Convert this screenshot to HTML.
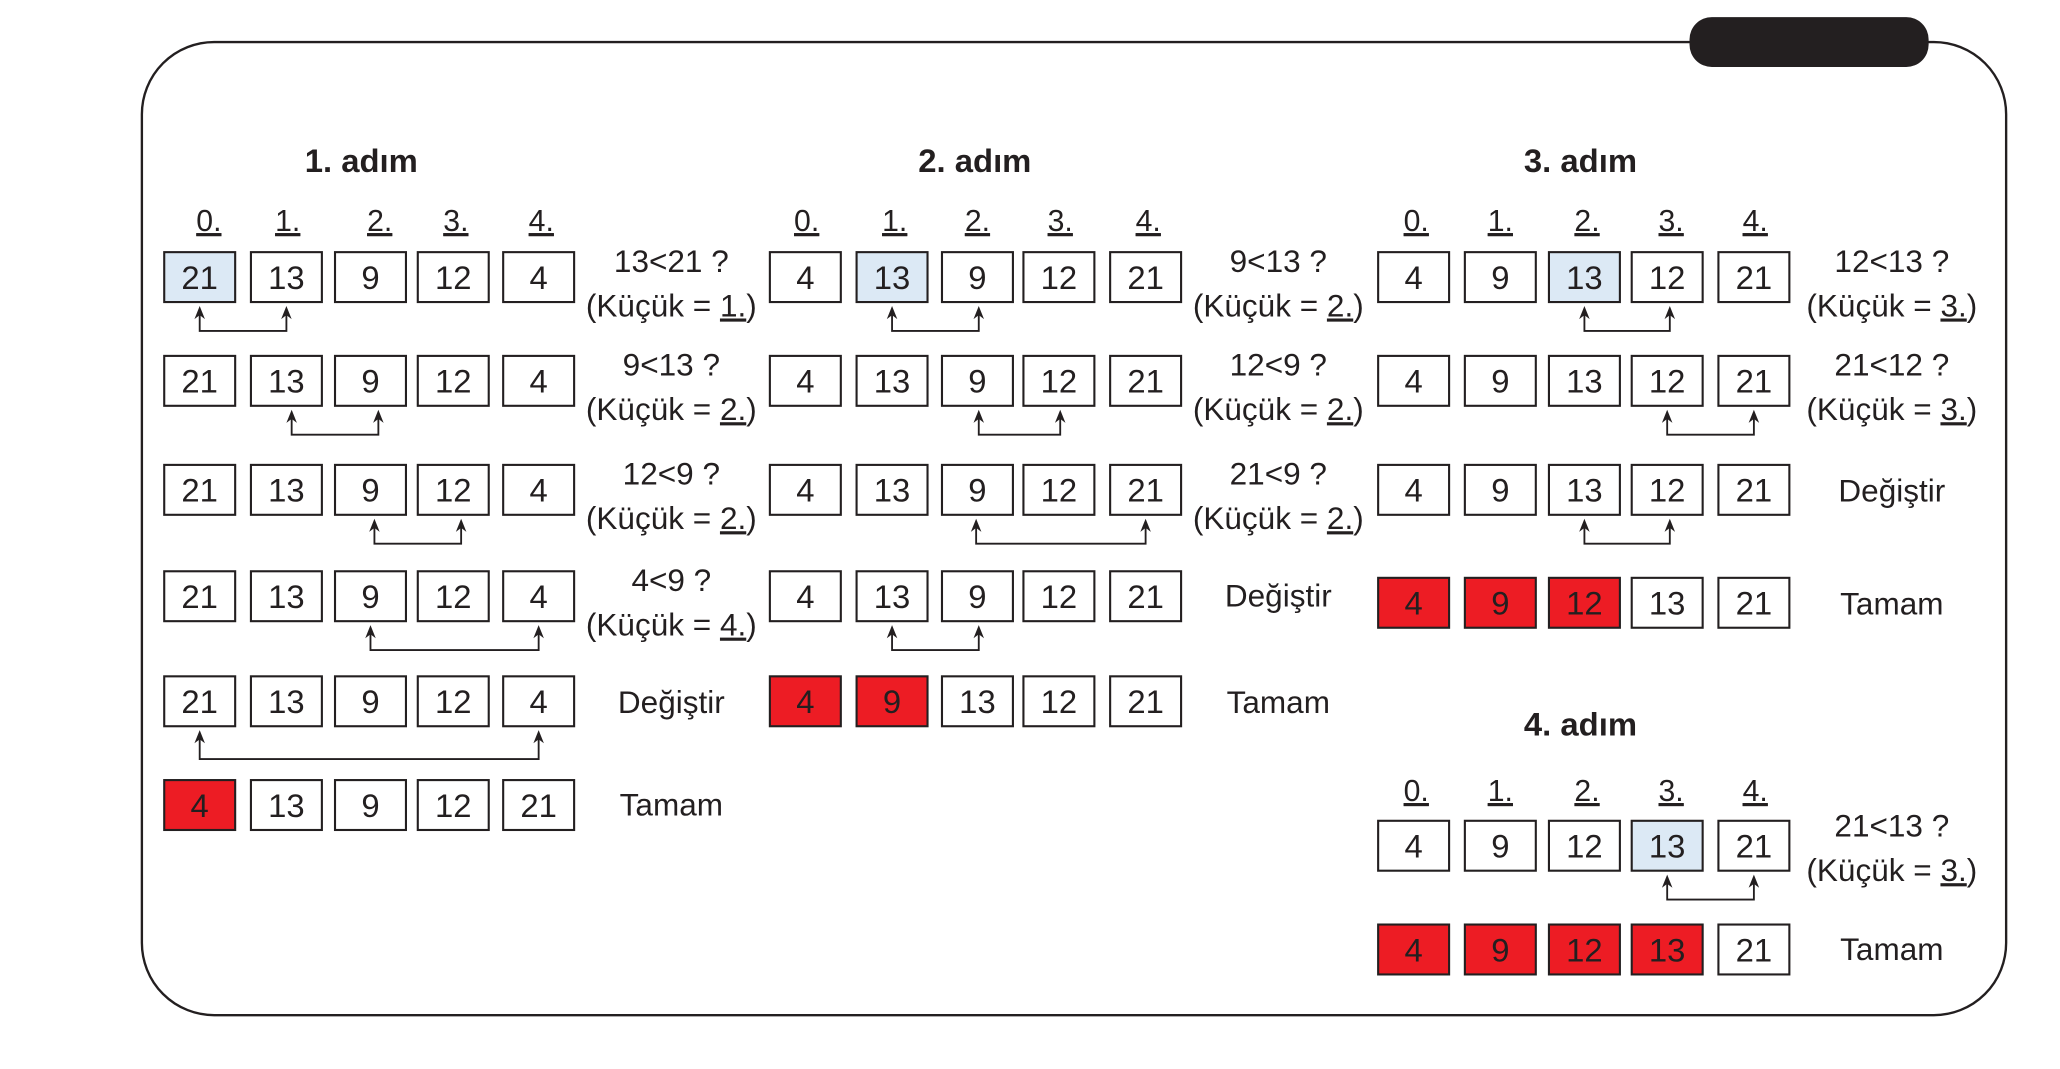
<!DOCTYPE html>
<html><head><meta charset="utf-8"><style>
html,body{margin:0;padding:0;background:#fff;}
svg{display:block}
text{font-family:"Liberation Sans",sans-serif;fill:#231f20}
.b{fill:#fff;stroke:#231f20;stroke-width:1.6}
.bl{fill:#dce9f5;stroke:#231f20;stroke-width:1.6}
.r{fill:#ed1c24;stroke:#231f20;stroke-width:1.6}
.n{font-size:25px;text-anchor:middle}
.h{font-size:25px;font-weight:bold;text-anchor:middle}
.i{font-size:23px;text-anchor:middle;text-decoration:underline}
.t{font-size:24px;text-anchor:middle}
.a{fill:none;stroke:#231f20;stroke-width:1.4}
.ah{fill:#231f20}
</style></head><body>
<svg width="2060" height="1069" viewBox="0 0 1568 814" preserveAspectRatio="none">
<rect x="108" y="32" width="1419" height="741" rx="55" fill="none" stroke="#231f20" stroke-width="1.8"/>
<rect x="1286" y="13" width="182" height="38" rx="17" fill="#231f20"/>

<text class="h" x="275" y="131">1. adım</text>
<text class="h" x="742" y="131">2. adım</text>
<text class="h" x="1203" y="131">3. adım</text>
<text class="h" x="1203" y="560">4. adım</text>

<g class="i">
<text class="i" x="159" y="176">0.</text><text class="i" x="219" y="176">1.</text><text class="i" x="289" y="176">2.</text><text class="i" x="347" y="176">3.</text><text class="i" x="412" y="176">4.</text>
<text class="i" x="614" y="176">0.</text><text class="i" x="681" y="176">1.</text><text class="i" x="744" y="176">2.</text><text class="i" x="807" y="176">3.</text><text class="i" x="874" y="176">4.</text>
<text class="i" x="1078" y="176">0.</text><text class="i" x="1142" y="176">1.</text><text class="i" x="1208" y="176">2.</text><text class="i" x="1272" y="176">3.</text><text class="i" x="1336" y="176">4.</text>
<text class="i" x="1078" y="610">0.</text><text class="i" x="1142" y="610">1.</text><text class="i" x="1208" y="610">2.</text><text class="i" x="1272" y="610">3.</text><text class="i" x="1336" y="610">4.</text>
</g>

<!-- connectors -->
<g>
<path class="a" d="M152 239 V252 H218 V239"/><polygon class="ah" points="148,243 152,233 156,243 152,240"/><polygon class="ah" points="214,243 218,233 222,243 218,240"/>
<path class="a" d="M222 318 V331 H288 V318"/><polygon class="ah" points="218,322 222,312 226,322 222,319"/><polygon class="ah" points="284,322 288,312 292,322 288,319"/>
<path class="a" d="M285 401 V414 H351 V401"/><polygon class="ah" points="281,405 285,395 289,405 285,402"/><polygon class="ah" points="347,405 351,395 355,405 351,402"/>
<path class="a" d="M282 482 V495 H410 V482"/><polygon class="ah" points="278,486 282,476 286,486 282,483"/><polygon class="ah" points="406,486 410,476 414,486 410,483"/>
<path class="a" d="M152 562 V578 H410 V562"/><polygon class="ah" points="148,566 152,556 156,566 152,563"/><polygon class="ah" points="406,566 410,556 414,566 410,563"/>

<path class="a" d="M679 239 V252 H745 V239"/><polygon class="ah" points="675,243 679,233 683,243 679,240"/><polygon class="ah" points="741,243 745,233 749,243 745,240"/>
<path class="a" d="M745 318 V331 H807 V318"/><polygon class="ah" points="741,322 745,312 749,322 745,319"/><polygon class="ah" points="803,322 807,312 811,322 807,319"/>
<path class="a" d="M743 401 V414 H872 V401"/><polygon class="ah" points="739,405 743,395 747,405 743,402"/><polygon class="ah" points="868,405 872,395 876,405 872,402"/>
<path class="a" d="M679 482 V495 H745 V482"/><polygon class="ah" points="675,486 679,476 683,486 679,483"/><polygon class="ah" points="741,486 745,476 749,486 745,483"/>

<path class="a" d="M1206 239 V252 H1271 V239"/><polygon class="ah" points="1202,243 1206,233 1210,243 1206,240"/><polygon class="ah" points="1267,243 1271,233 1275,243 1271,240"/>
<path class="a" d="M1269 318 V331 H1335 V318"/><polygon class="ah" points="1265,322 1269,312 1273,322 1269,319"/><polygon class="ah" points="1331,322 1335,312 1339,322 1335,319"/>
<path class="a" d="M1206 401 V414 H1271 V401"/><polygon class="ah" points="1202,405 1206,395 1210,405 1206,402"/><polygon class="ah" points="1267,405 1271,395 1275,405 1271,402"/>
<path class="a" d="M1269 672 V685 H1335 V672"/><polygon class="ah" points="1265,676 1269,666 1273,676 1269,673"/><polygon class="ah" points="1331,676 1335,666 1339,676 1335,673"/>
</g>

<!-- Group 1 -->
<g>
<rect class="bl" x="125" y="192" width="54" height="38"/><rect class="b" x="191" y="192" width="54" height="38"/><rect class="b" x="255" y="192" width="54" height="38"/><rect class="b" x="318" y="192" width="54" height="38"/><rect class="b" x="383" y="192" width="54" height="38"/>
<text class="n" x="152" y="220">21</text><text class="n" x="218" y="220">13</text><text class="n" x="282" y="220">9</text><text class="n" x="345" y="220">12</text><text class="n" x="410" y="220">4</text>

<rect class="b" x="125" y="271" width="54" height="38"/><rect class="b" x="191" y="271" width="54" height="38"/><rect class="b" x="255" y="271" width="54" height="38"/><rect class="b" x="318" y="271" width="54" height="38"/><rect class="b" x="383" y="271" width="54" height="38"/>
<text class="n" x="152" y="299">21</text><text class="n" x="218" y="299">13</text><text class="n" x="282" y="299">9</text><text class="n" x="345" y="299">12</text><text class="n" x="410" y="299">4</text>

<rect class="b" x="125" y="354" width="54" height="38"/><rect class="b" x="191" y="354" width="54" height="38"/><rect class="b" x="255" y="354" width="54" height="38"/><rect class="b" x="318" y="354" width="54" height="38"/><rect class="b" x="383" y="354" width="54" height="38"/>
<text class="n" x="152" y="382">21</text><text class="n" x="218" y="382">13</text><text class="n" x="282" y="382">9</text><text class="n" x="345" y="382">12</text><text class="n" x="410" y="382">4</text>

<rect class="b" x="125" y="435" width="54" height="38"/><rect class="b" x="191" y="435" width="54" height="38"/><rect class="b" x="255" y="435" width="54" height="38"/><rect class="b" x="318" y="435" width="54" height="38"/><rect class="b" x="383" y="435" width="54" height="38"/>
<text class="n" x="152" y="463">21</text><text class="n" x="218" y="463">13</text><text class="n" x="282" y="463">9</text><text class="n" x="345" y="463">12</text><text class="n" x="410" y="463">4</text>

<rect class="b" x="125" y="515" width="54" height="38"/><rect class="b" x="191" y="515" width="54" height="38"/><rect class="b" x="255" y="515" width="54" height="38"/><rect class="b" x="318" y="515" width="54" height="38"/><rect class="b" x="383" y="515" width="54" height="38"/>
<text class="n" x="152" y="543">21</text><text class="n" x="218" y="543">13</text><text class="n" x="282" y="543">9</text><text class="n" x="345" y="543">12</text><text class="n" x="410" y="543">4</text>

<rect class="r" x="125" y="594" width="54" height="38"/><rect class="b" x="191" y="594" width="54" height="38"/><rect class="b" x="255" y="594" width="54" height="38"/><rect class="b" x="318" y="594" width="54" height="38"/><rect class="b" x="383" y="594" width="54" height="38"/>
<text class="n" x="152" y="622">4</text><text class="n" x="218" y="622">13</text><text class="n" x="282" y="622">9</text><text class="n" x="345" y="622">12</text><text class="n" x="410" y="622">21</text>

<text class="t" x="511" y="207">13&lt;21 ?</text><text class="t" x="511" y="241">(Küçük = <tspan text-decoration="underline">1.</tspan>)</text>
<text class="t" x="511" y="286">9&lt;13 ?</text><text class="t" x="511" y="320">(Küçük = <tspan text-decoration="underline">2.</tspan>)</text>
<text class="t" x="511" y="369">12&lt;9 ?</text><text class="t" x="511" y="403">(Küçük = <tspan text-decoration="underline">2.</tspan>)</text>
<text class="t" x="511" y="450">4&lt;9 ?</text><text class="t" x="511" y="484">(Küçük = <tspan text-decoration="underline">4.</tspan>)</text>
<text class="t" x="511" y="543">Değiştir</text>
<text class="t" x="511" y="621">Tamam</text>
</g>

<!-- Group 2 -->
<g>
<rect class="b" x="586" y="192" width="54" height="38"/><rect class="bl" x="652" y="192" width="54" height="38"/><rect class="b" x="717" y="192" width="54" height="38"/><rect class="b" x="779" y="192" width="54" height="38"/><rect class="b" x="845" y="192" width="54" height="38"/>
<text class="n" x="613" y="220">4</text><text class="n" x="679" y="220">13</text><text class="n" x="744" y="220">9</text><text class="n" x="806" y="220">12</text><text class="n" x="872" y="220">21</text>

<rect class="b" x="586" y="271" width="54" height="38"/><rect class="b" x="652" y="271" width="54" height="38"/><rect class="b" x="717" y="271" width="54" height="38"/><rect class="b" x="779" y="271" width="54" height="38"/><rect class="b" x="845" y="271" width="54" height="38"/>
<text class="n" x="613" y="299">4</text><text class="n" x="679" y="299">13</text><text class="n" x="744" y="299">9</text><text class="n" x="806" y="299">12</text><text class="n" x="872" y="299">21</text>

<rect class="b" x="586" y="354" width="54" height="38"/><rect class="b" x="652" y="354" width="54" height="38"/><rect class="b" x="717" y="354" width="54" height="38"/><rect class="b" x="779" y="354" width="54" height="38"/><rect class="b" x="845" y="354" width="54" height="38"/>
<text class="n" x="613" y="382">4</text><text class="n" x="679" y="382">13</text><text class="n" x="744" y="382">9</text><text class="n" x="806" y="382">12</text><text class="n" x="872" y="382">21</text>

<rect class="b" x="586" y="435" width="54" height="38"/><rect class="b" x="652" y="435" width="54" height="38"/><rect class="b" x="717" y="435" width="54" height="38"/><rect class="b" x="779" y="435" width="54" height="38"/><rect class="b" x="845" y="435" width="54" height="38"/>
<text class="n" x="613" y="463">4</text><text class="n" x="679" y="463">13</text><text class="n" x="744" y="463">9</text><text class="n" x="806" y="463">12</text><text class="n" x="872" y="463">21</text>

<rect class="r" x="586" y="515" width="54" height="38"/><rect class="r" x="652" y="515" width="54" height="38"/><rect class="b" x="717" y="515" width="54" height="38"/><rect class="b" x="779" y="515" width="54" height="38"/><rect class="b" x="845" y="515" width="54" height="38"/>
<text class="n" x="613" y="543">4</text><text class="n" x="679" y="543">9</text><text class="n" x="744" y="543">13</text><text class="n" x="806" y="543">12</text><text class="n" x="872" y="543">21</text>

<text class="t" x="973" y="207">9&lt;13 ?</text><text class="t" x="973" y="241">(Küçük = <tspan text-decoration="underline">2.</tspan>)</text>
<text class="t" x="973" y="286">12&lt;9 ?</text><text class="t" x="973" y="320">(Küçük = <tspan text-decoration="underline">2.</tspan>)</text>
<text class="t" x="973" y="369">21&lt;9 ?</text><text class="t" x="973" y="403">(Küçük = <tspan text-decoration="underline">2.</tspan>)</text>
<text class="t" x="973" y="462">Değiştir</text>
<text class="t" x="973" y="543">Tamam</text>
</g>

<!-- Group 3 -->
<g>
<rect class="b" x="1049" y="192" width="54" height="38"/><rect class="b" x="1115" y="192" width="54" height="38"/><rect class="bl" x="1179" y="192" width="54" height="38"/><rect class="b" x="1242" y="192" width="54" height="38"/><rect class="b" x="1308" y="192" width="54" height="38"/>
<text class="n" x="1076" y="220">4</text><text class="n" x="1142" y="220">9</text><text class="n" x="1206" y="220">13</text><text class="n" x="1269" y="220">12</text><text class="n" x="1335" y="220">21</text>

<rect class="b" x="1049" y="271" width="54" height="38"/><rect class="b" x="1115" y="271" width="54" height="38"/><rect class="b" x="1179" y="271" width="54" height="38"/><rect class="b" x="1242" y="271" width="54" height="38"/><rect class="b" x="1308" y="271" width="54" height="38"/>
<text class="n" x="1076" y="299">4</text><text class="n" x="1142" y="299">9</text><text class="n" x="1206" y="299">13</text><text class="n" x="1269" y="299">12</text><text class="n" x="1335" y="299">21</text>

<rect class="b" x="1049" y="354" width="54" height="38"/><rect class="b" x="1115" y="354" width="54" height="38"/><rect class="b" x="1179" y="354" width="54" height="38"/><rect class="b" x="1242" y="354" width="54" height="38"/><rect class="b" x="1308" y="354" width="54" height="38"/>
<text class="n" x="1076" y="382">4</text><text class="n" x="1142" y="382">9</text><text class="n" x="1206" y="382">13</text><text class="n" x="1269" y="382">12</text><text class="n" x="1335" y="382">21</text>

<rect class="r" x="1049" y="440" width="54" height="38"/><rect class="r" x="1115" y="440" width="54" height="38"/><rect class="r" x="1179" y="440" width="54" height="38"/><rect class="b" x="1242" y="440" width="54" height="38"/><rect class="b" x="1308" y="440" width="54" height="38"/>
<text class="n" x="1076" y="468">4</text><text class="n" x="1142" y="468">9</text><text class="n" x="1206" y="468">12</text><text class="n" x="1269" y="468">13</text><text class="n" x="1335" y="468">21</text>

<text class="t" x="1440" y="207">12&lt;13 ?</text><text class="t" x="1440" y="241">(Küçük = <tspan text-decoration="underline">3.</tspan>)</text>
<text class="t" x="1440" y="286">21&lt;12 ?</text><text class="t" x="1440" y="320">(Küçük = <tspan text-decoration="underline">3.</tspan>)</text>
<text class="t" x="1440" y="382">Değiştir</text>
<text class="t" x="1440" y="468">Tamam</text>
</g>

<!-- Group 4 -->
<g>
<rect class="b" x="1049" y="625" width="54" height="38"/><rect class="b" x="1115" y="625" width="54" height="38"/><rect class="b" x="1179" y="625" width="54" height="38"/><rect class="bl" x="1242" y="625" width="54" height="38"/><rect class="b" x="1308" y="625" width="54" height="38"/>
<text class="n" x="1076" y="653">4</text><text class="n" x="1142" y="653">9</text><text class="n" x="1206" y="653">12</text><text class="n" x="1269" y="653">13</text><text class="n" x="1335" y="653">21</text>

<rect class="r" x="1049" y="704" width="54" height="38"/><rect class="r" x="1115" y="704" width="54" height="38"/><rect class="r" x="1179" y="704" width="54" height="38"/><rect class="r" x="1242" y="704" width="54" height="38"/><rect class="b" x="1308" y="704" width="54" height="38"/>
<text class="n" x="1076" y="732">4</text><text class="n" x="1142" y="732">9</text><text class="n" x="1206" y="732">12</text><text class="n" x="1269" y="732">13</text><text class="n" x="1335" y="732">21</text>

<text class="t" x="1440" y="637">21&lt;13 ?</text><text class="t" x="1440" y="671">(Küçük = <tspan text-decoration="underline">3.</tspan>)</text>
<text class="t" x="1440" y="731">Tamam</text>
</g>
</svg>
</body></html>
